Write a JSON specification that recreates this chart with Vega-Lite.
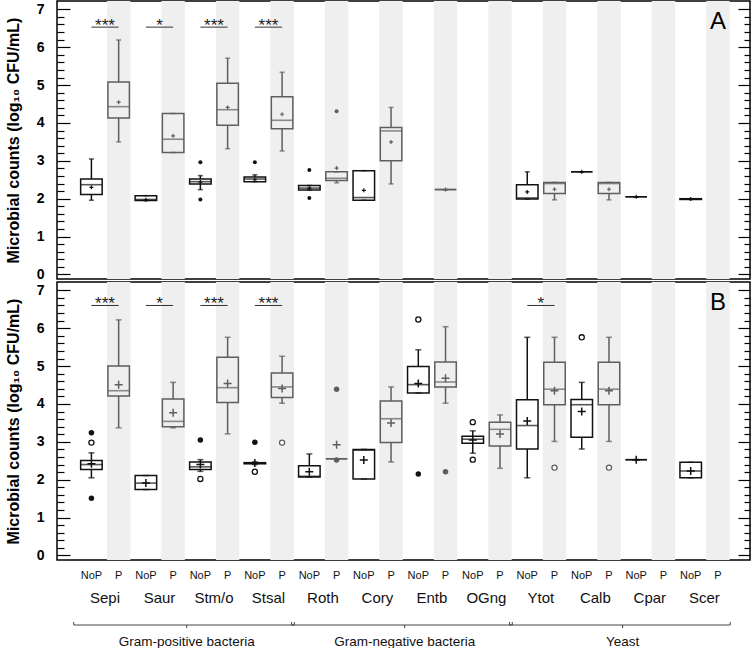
{
  "$schema": "https://vega.github.io/schema/vega-lite/v6.json",
  "background": "white",
  "padding": {"left": 4, "top": 0, "right": 2, "bottom": 0},
  "config": {"view": {"stroke": "black", "strokeWidth": 1.5}, "font": "Liberation Sans"},
  "spacing": 3,
  "bounds": "flush",
  "datasets": {
    "cols": [
      {"col": "Sepi|NoP", "group": "Sepi", "cond": "NoP"}, {"col": "Sepi|P", "group": "Sepi", "cond": "P"},
      {"col": "Saur|NoP", "group": "Saur", "cond": "NoP"}, {"col": "Saur|P", "group": "Saur", "cond": "P"},
      {"col": "Stm/o|NoP", "group": "Stm/o", "cond": "NoP"}, {"col": "Stm/o|P", "group": "Stm/o", "cond": "P"},
      {"col": "Stsal|NoP", "group": "Stsal", "cond": "NoP"}, {"col": "Stsal|P", "group": "Stsal", "cond": "P"},
      {"col": "Roth|NoP", "group": "Roth", "cond": "NoP"}, {"col": "Roth|P", "group": "Roth", "cond": "P"},
      {"col": "Cory|NoP", "group": "Cory", "cond": "NoP"}, {"col": "Cory|P", "group": "Cory", "cond": "P"},
      {"col": "Entb|NoP", "group": "Entb", "cond": "NoP"}, {"col": "Entb|P", "group": "Entb", "cond": "P"},
      {"col": "OGng|NoP", "group": "OGng", "cond": "NoP"}, {"col": "OGng|P", "group": "OGng", "cond": "P"},
      {"col": "Ytot|NoP", "group": "Ytot", "cond": "NoP"}, {"col": "Ytot|P", "group": "Ytot", "cond": "P"},
      {"col": "Calb|NoP", "group": "Calb", "cond": "NoP"}, {"col": "Calb|P", "group": "Calb", "cond": "P"},
      {"col": "Cpar|NoP", "group": "Cpar", "cond": "NoP"}, {"col": "Cpar|P", "group": "Cpar", "cond": "P"},
      {"col": "Scer|NoP", "group": "Scer", "cond": "NoP"}, {"col": "Scer|P", "group": "Scer", "cond": "P"}
    ],
    "boxes": [
      {"panel": "A", "col": "Sepi|NoP", "cond": "NoP", "lo": 1.96, "q1": 2.11, "med": 2.37, "q3": 2.52, "hi": 3.05, "mean": 2.3},
      {"panel": "A", "col": "Sepi|P", "cond": "P", "lo": 3.5, "q1": 4.13, "med": 4.43, "q3": 5.08, "hi": 6.19, "mean": 4.55},
      {"panel": "A", "col": "Saur|NoP", "cond": "NoP", "lo": 1.95, "q1": 1.95, "med": 1.98, "q3": 2.08, "hi": 2.08, "mean": 1.97},
      {"panel": "A", "col": "Saur|P", "cond": "P", "lo": 3.22, "q1": 3.22, "med": 3.57, "q3": 4.25, "hi": 4.25, "mean": 3.66},
      {"panel": "A", "col": "Stm/o|NoP", "cond": "NoP", "lo": 2.24, "q1": 2.39, "med": 2.45, "q3": 2.52, "hi": 2.61, "mean": 2.44},
      {"panel": "A", "col": "Stm/o|P", "cond": "P", "lo": 3.32, "q1": 3.94, "med": 4.35, "q3": 5.05, "hi": 5.71, "mean": 4.41},
      {"panel": "A", "col": "Stsal|NoP", "cond": "NoP", "lo": 2.45, "q1": 2.45, "med": 2.52, "q3": 2.57, "hi": 2.63, "mean": 2.5},
      {"panel": "A", "col": "Stsal|P", "cond": "P", "lo": 3.26, "q1": 3.85, "med": 4.07, "q3": 4.69, "hi": 5.34, "mean": 4.23},
      {"panel": "A", "col": "Roth|NoP", "cond": "NoP", "lo": 2.23, "q1": 2.23, "med": 2.28, "q3": 2.35, "hi": 2.35, "mean": 2.28},
      {"panel": "A", "col": "Roth|P", "cond": "P", "lo": 2.42, "q1": 2.48, "med": 2.54, "q3": 2.71, "hi": 2.71, "mean": 2.81},
      {"panel": "A", "col": "Cory|NoP", "cond": "NoP", "lo": 1.96, "q1": 1.96, "med": 2.03, "q3": 2.74, "hi": 2.74, "mean": 2.22},
      {"panel": "A", "col": "Cory|P", "cond": "P", "lo": 2.39, "q1": 3.0, "med": 3.79, "q3": 3.88, "hi": 4.41, "mean": 3.5},
      {"panel": "A", "col": "Entb|P", "cond": "P", "lo": 2.24, "q1": 2.24, "med": 2.24, "q3": 2.24, "hi": 2.24, "mean": 2.24},
      {"panel": "A", "col": "Ytot|NoP", "cond": "NoP", "lo": 1.99, "q1": 1.99, "med": 2.02, "q3": 2.37, "hi": 2.71, "mean": 2.18},
      {"panel": "A", "col": "Ytot|P", "cond": "P", "lo": 1.97, "q1": 2.14, "med": 2.4, "q3": 2.43, "hi": 2.43, "mean": 2.25},
      {"panel": "A", "col": "Calb|NoP", "cond": "NoP", "lo": 2.71, "q1": 2.71, "med": 2.71, "q3": 2.71, "hi": 2.71, "mean": 2.71},
      {"panel": "A", "col": "Calb|P", "cond": "P", "lo": 1.97, "q1": 2.14, "med": 2.4, "q3": 2.43, "hi": 2.43, "mean": 2.25},
      {"panel": "A", "col": "Cpar|NoP", "cond": "NoP", "lo": 2.05, "q1": 2.05, "med": 2.05, "q3": 2.05, "hi": 2.05, "mean": 2.05},
      {"panel": "A", "col": "Scer|NoP", "cond": "NoP", "lo": 1.98, "q1": 1.98, "med": 1.99, "q3": 2.0, "hi": 2.0, "mean": 1.99},
      {"panel": "B", "col": "Sepi|NoP", "cond": "NoP", "lo": 2.05, "q1": 2.27, "med": 2.4, "q3": 2.51, "hi": 2.71, "mean": 2.42},
      {"panel": "B", "col": "Sepi|P", "cond": "P", "lo": 3.37, "q1": 4.21, "med": 4.35, "q3": 5.0, "hi": 6.22, "mean": 4.51},
      {"panel": "B", "col": "Saur|NoP", "cond": "NoP", "lo": 1.74, "q1": 1.74, "med": 1.91, "q3": 2.11, "hi": 2.11, "mean": 1.91},
      {"panel": "B", "col": "Saur|P", "cond": "P", "lo": 3.37, "q1": 3.4, "med": 3.54, "q3": 4.13, "hi": 4.57, "mean": 3.77},
      {"panel": "B", "col": "Stm/o|NoP", "cond": "NoP", "lo": 2.22, "q1": 2.27, "med": 2.34, "q3": 2.47, "hi": 2.53, "mean": 2.4},
      {"panel": "B", "col": "Stm/o|P", "cond": "P", "lo": 3.21, "q1": 4.04, "med": 4.43, "q3": 5.23, "hi": 5.76, "mean": 4.54},
      {"panel": "B", "col": "Stsal|NoP", "cond": "NoP", "lo": 2.4, "q1": 2.42, "med": 2.44, "q3": 2.45, "hi": 2.47, "mean": 2.44},
      {"panel": "B", "col": "Stsal|P", "cond": "P", "lo": 4.02, "q1": 4.17, "med": 4.45, "q3": 4.82, "hi": 5.26, "mean": 4.41},
      {"panel": "B", "col": "Roth|NoP", "cond": "NoP", "lo": 2.07, "q1": 2.07, "med": 2.09, "q3": 2.37, "hi": 2.68, "mean": 2.21},
      {"panel": "B", "col": "Roth|P", "cond": "P", "lo": 2.55, "q1": 2.55, "med": 2.55, "q3": 2.55, "hi": 2.55, "mean": 2.92},
      {"panel": "B", "col": "Cory|NoP", "cond": "NoP", "lo": 2.02, "q1": 2.02, "med": 2.78, "q3": 2.8, "hi": 2.8, "mean": 2.52},
      {"panel": "B", "col": "Cory|P", "cond": "P", "lo": 2.47, "q1": 2.98, "med": 3.61, "q3": 4.08, "hi": 4.45, "mean": 3.5},
      {"panel": "B", "col": "Entb|NoP", "cond": "NoP", "lo": 4.29, "q1": 4.29, "med": 4.51, "q3": 4.99, "hi": 5.43, "mean": 4.54},
      {"panel": "B", "col": "Entb|P", "cond": "P", "lo": 4.02, "q1": 4.45, "med": 4.58, "q3": 5.11, "hi": 6.04, "mean": 4.68},
      {"panel": "B", "col": "OGng|NoP", "cond": "NoP", "lo": 2.7, "q1": 2.96, "med": 3.07, "q3": 3.15, "hi": 3.29, "mean": 3.05},
      {"panel": "B", "col": "OGng|P", "cond": "P", "lo": 2.3, "q1": 2.89, "med": 3.33, "q3": 3.52, "hi": 3.71, "mean": 3.21},
      {"panel": "B", "col": "Ytot|NoP", "cond": "NoP", "lo": 2.05, "q1": 2.81, "med": 3.43, "q3": 4.11, "hi": 5.76, "mean": 3.55},
      {"panel": "B", "col": "Ytot|P", "cond": "P", "lo": 3.01, "q1": 3.98, "med": 4.39, "q3": 5.1, "hi": 5.76, "mean": 4.35},
      {"panel": "B", "col": "Calb|NoP", "cond": "NoP", "lo": 2.81, "q1": 3.12, "med": 3.98, "q3": 4.12, "hi": 4.57, "mean": 3.8},
      {"panel": "B", "col": "Calb|P", "cond": "P", "lo": 3.01, "q1": 3.98, "med": 4.39, "q3": 5.1, "hi": 5.76, "mean": 4.35},
      {"panel": "B", "col": "Cpar|NoP", "cond": "NoP", "lo": 2.53, "q1": 2.53, "med": 2.53, "q3": 2.53, "hi": 2.53, "mean": 2.53},
      {"panel": "B", "col": "Scer|NoP", "cond": "NoP", "lo": 2.05, "q1": 2.05, "med": 2.23, "q3": 2.46, "hi": 2.46, "mean": 2.23}
    ],
    "outliers": [
      {"panel": "A", "col": "Stm/o|NoP", "cond": "NoP", "value": 2.96, "kind": "filled"},
      {"panel": "A", "col": "Stm/o|NoP", "cond": "NoP", "value": 1.98, "kind": "filled"},
      {"panel": "A", "col": "Stsal|NoP", "cond": "NoP", "value": 2.96, "kind": "filled"},
      {"panel": "A", "col": "Roth|NoP", "cond": "NoP", "value": 2.76, "kind": "filled"},
      {"panel": "A", "col": "Roth|NoP", "cond": "NoP", "value": 2.02, "kind": "filled"},
      {"panel": "A", "col": "Roth|P", "cond": "P", "value": 4.31, "kind": "filled"},
      {"panel": "B", "col": "Sepi|NoP", "cond": "NoP", "value": 3.24, "kind": "filled"},
      {"panel": "B", "col": "Sepi|NoP", "cond": "NoP", "value": 2.98, "kind": "open"},
      {"panel": "B", "col": "Sepi|NoP", "cond": "NoP", "value": 1.51, "kind": "filled"},
      {"panel": "B", "col": "Stm/o|NoP", "cond": "NoP", "value": 3.05, "kind": "filled"},
      {"panel": "B", "col": "Stm/o|NoP", "cond": "NoP", "value": 2.02, "kind": "open"},
      {"panel": "B", "col": "Stsal|NoP", "cond": "NoP", "value": 2.99, "kind": "filled"},
      {"panel": "B", "col": "Stsal|NoP", "cond": "NoP", "value": 2.21, "kind": "open"},
      {"panel": "B", "col": "Stsal|P", "cond": "P", "value": 2.98, "kind": "open"},
      {"panel": "B", "col": "Roth|P", "cond": "P", "value": 4.39, "kind": "filled"},
      {"panel": "B", "col": "Roth|P", "cond": "P", "value": 2.52, "kind": "filled"},
      {"panel": "B", "col": "Entb|NoP", "cond": "NoP", "value": 6.23, "kind": "open"},
      {"panel": "B", "col": "Entb|NoP", "cond": "NoP", "value": 2.15, "kind": "filled"},
      {"panel": "B", "col": "Entb|P", "cond": "P", "value": 2.21, "kind": "filled"},
      {"panel": "B", "col": "OGng|NoP", "cond": "NoP", "value": 3.52, "kind": "open"},
      {"panel": "B", "col": "OGng|NoP", "cond": "NoP", "value": 2.53, "kind": "open"},
      {"panel": "B", "col": "Ytot|P", "cond": "P", "value": 2.32, "kind": "open"},
      {"panel": "B", "col": "Calb|NoP", "cond": "NoP", "value": 5.76, "kind": "open"},
      {"panel": "B", "col": "Calb|P", "cond": "P", "value": 2.32, "kind": "open"}
    ],
    "sig": [
      {"panel": "A", "a": "Sepi|NoP", "b": "Sepi|P", "label": "***"},
      {"panel": "A", "a": "Saur|NoP", "b": "Saur|P", "label": "*"},
      {"panel": "A", "a": "Stm/o|NoP", "b": "Stm/o|P", "label": "***"},
      {"panel": "A", "a": "Stsal|NoP", "b": "Stsal|P", "label": "***"},
      {"panel": "B", "a": "Sepi|NoP", "b": "Sepi|P", "label": "***"},
      {"panel": "B", "a": "Saur|NoP", "b": "Saur|P", "label": "*"},
      {"panel": "B", "a": "Stm/o|NoP", "b": "Stm/o|P", "label": "***"},
      {"panel": "B", "a": "Stsal|NoP", "b": "Stsal|P", "label": "***"},
      {"panel": "B", "a": "Ytot|NoP", "b": "Ytot|P", "label": "*"}
    ],
    "brackets": [
      {"name": "Gram-positive bacteria", "first": "Sepi|NoP", "last": "Stsal|P", "mid": "Saur|P"},
      {"name": "Gram-negative bacteria", "first": "Roth|NoP", "last": "OGng|P", "mid": "Cory|P"},
      {"name": "Yeast", "first": "Ytot|NoP", "last": "Scer|P", "mid": "Calb|P"}
    ]
  },
  "vconcat": [
    {
      "width": 693, "height": 278,
      "resolve": {"axis": {"y": "independent"}},
      "layer": [
        {"data": {"name": "cols"}, "transform": [{"filter": "datum.cond === 'P'"}],
         "mark": {"type": "bar", "color": "#efefef", "width": {"band": 0.86}},
         "encoding": {
           "x": {"field": "col", "type": "nominal", "axis": null,
                 "scale": {"type": "band", "domain": ["Sepi|NoP","Sepi|P","Saur|NoP","Saur|P","Stm/o|NoP","Stm/o|P","Stsal|NoP","Stsal|P","Roth|NoP","Roth|P","Cory|NoP","Cory|P","Entb|NoP","Entb|P","OGng|NoP","OGng|P","Ytot|NoP","Ytot|P","Calb|NoP","Calb|P","Cpar|NoP","Cpar|P","Scer|NoP","Scer|P"], "paddingInner": 0, "paddingOuter": 0.72, "align": 0.53}},
           "y": {"datum": -0.12, "type": "quantitative", "scale": {"domain": [-0.12, 7.22], "nice": false, "zero": false},
                 "axis": {"orient": "left", "zindex": 1, "values": [0,0.2,0.4,0.6,0.8,1,1.2,1.4,1.6,1.8,2,2.2,2.4,2.6,2.8,3,3.2,3.4,3.6,3.8,4,4.2,4.4,4.6,4.8,5,5.2,5.4,5.6,5.8,6,6.2,6.4,6.6,6.8,7],
                          "labelExpr": "datum.value % 1 === 0 ? '' + datum.value : ''", "labelOverlap": false,
                          "tickSize": {"condition": {"test": "datum.value % 1 === 0", "value": -13}, "value": -7},
                          "tickColor": "black", "tickWidth": 1.2, "domain": false, "grid": false,
                          "labelFont": "Liberation Sans", "labelFontWeight": "bold", "labelFontSize": 14, "labelColor": "black", "labelPadding": 26,
                          "title": "Microbial counts (log₁₀ CFU/mL)", "titleFont": "Liberation Sans", "titleFontSize": 16, "titleFontWeight": "bold", "titleColor": "black", "titlePadding": 15}},
           "y2": {"datum": 7.22}
         }},
        {"data": {"name": "boxes"}, "transform": [{"filter": "datum.panel === 'A'"}],
         "mark": {"type": "rule", "strokeWidth": 1.5},
         "encoding": {
           "x": {"field": "col", "type": "nominal"},
           "y": {"field": "lo", "type": "quantitative",
                 "axis": {"orient": "right", "zindex": 1, "values": [0,0.2,0.4,0.6,0.8,1,1.2,1.4,1.6,1.8,2,2.2,2.4,2.6,2.8,3,3.2,3.4,3.6,3.8,4,4.2,4.4,4.6,4.8,5,5.2,5.4,5.6,5.8,6,6.2,6.4,6.6,6.8,7],
                          "labels": false, "title": null, "domain": false, "grid": false,
                          "tickSize": {"condition": {"test": "datum.value % 1 === 0", "value": -12}, "value": -6},
                          "tickColor": "black", "tickWidth": 1.2}},
           "y2": {"field": "q1"},
           "color": {"field": "cond", "type": "nominal", "scale": {"domain": ["NoP", "P"], "range": ["#111111", "#5e5e5e"]}, "legend": null}
         }},
        {"data": {"name": "boxes"}, "transform": [{"filter": "datum.panel === 'A'"}],
         "mark": {"type": "rule", "strokeWidth": 1.5},
         "encoding": {"x": {"field": "col", "type": "nominal"}, "y": {"field": "q3", "type": "quantitative", "axis": null}, "y2": {"field": "hi"}, "color": {"field": "cond", "type": "nominal", "legend": null}}},
        {"data": {"name": "boxes"}, "transform": [{"filter": "datum.panel === 'A'"}],
         "mark": {"type": "bar", "filled": false, "strokeWidth": 1.5, "width": {"band": 0.79}},
         "encoding": {"x": {"field": "col", "type": "nominal"}, "y": {"field": "q1", "type": "quantitative", "axis": null}, "y2": {"field": "q3"}, "color": {"field": "cond", "type": "nominal", "legend": null}}},
        {"data": {"name": "boxes"}, "transform": [{"filter": "datum.panel === 'A'"}],
         "mark": {"type": "tick", "size": 21.5, "thickness": 1.6},
         "encoding": {"x": {"field": "col", "type": "nominal"}, "y": {"field": "med", "type": "quantitative", "axis": null}, "color": {"field": "cond", "type": "nominal", "legend": null}}},
        {"data": {"name": "boxes"}, "transform": [{"filter": "datum.panel === 'A'"}],
         "mark": {"type": "tick", "size": 5, "thickness": 1.5},
         "encoding": {"x": {"field": "col", "type": "nominal"}, "y": {"field": "lo", "type": "quantitative", "axis": null}, "color": {"field": "cond", "type": "nominal", "legend": null}}},
        {"data": {"name": "boxes"}, "transform": [{"filter": "datum.panel === 'A'"}],
         "mark": {"type": "tick", "size": 5, "thickness": 1.5},
         "encoding": {"x": {"field": "col", "type": "nominal"}, "y": {"field": "hi", "type": "quantitative", "axis": null}, "color": {"field": "cond", "type": "nominal", "legend": null}}},
        {"data": {"name": "boxes"}, "transform": [{"filter": "datum.panel === 'A'"}],
         "mark": {"type": "point", "shape": "M-1,0L1,0M0,-1L0,1", "filled": false, "size": 16, "strokeWidth": 1.2, "opacity": 1},
         "encoding": {"x": {"field": "col", "type": "nominal"}, "y": {"field": "mean", "type": "quantitative", "axis": null}, "color": {"field": "cond", "type": "nominal", "legend": null}}},
        {"data": {"name": "outliers"}, "transform": [{"filter": "datum.panel === 'A'"}],
         "mark": {"type": "point", "shape": "circle", "filled": true, "size": 16, "opacity": 1},
         "encoding": {"x": {"field": "col", "type": "nominal"}, "y": {"field": "value", "type": "quantitative", "axis": null}, "color": {"field": "cond", "type": "nominal", "legend": null}}},
        {"data": {"name": "sig"}, "transform": [{"filter": "datum.panel === 'A'"}],
         "mark": {"type": "rule", "color": "#333333", "strokeWidth": 1},
         "encoding": {"x": {"field": "a", "type": "nominal"}, "x2": {"field": "b"}, "y": {"datum": 6.53, "type": "quantitative", "axis": null}}},
        {"data": {"name": "sig"}, "transform": [{"filter": "datum.panel === 'A'"}],
         "mark": {"type": "text", "fontSize": 17, "color": "#222222", "baseline": "alphabetic", "dy": 4},
         "encoding": {"x": {"field": "b", "type": "nominal", "bandPosition": 0}, "y": {"datum": 6.53, "type": "quantitative", "axis": null}, "text": {"field": "label"}}},
        {"data": {"values": [{}]},
         "mark": {"type": "text", "fontSize": 24, "color": "black", "baseline": "middle"},
         "encoding": {"x": {"datum": "Scer|P", "type": "nominal"}, "y": {"datum": 6.67, "type": "quantitative", "axis": null}, "text": {"value": "A"}}}
      ]
    },
    {
      "width": 693, "height": 278,
      "resolve": {"axis": {"y": "independent"}},
      "layer": [
        {"data": {"name": "cols"}, "transform": [{"filter": "datum.cond === 'P'"}],
         "mark": {"type": "bar", "color": "#efefef", "width": {"band": 0.86}},
         "encoding": {
           "x": {"field": "col", "type": "nominal", "axis": null,
                 "scale": {"type": "band", "domain": ["Sepi|NoP","Sepi|P","Saur|NoP","Saur|P","Stm/o|NoP","Stm/o|P","Stsal|NoP","Stsal|P","Roth|NoP","Roth|P","Cory|NoP","Cory|P","Entb|NoP","Entb|P","OGng|NoP","OGng|P","Ytot|NoP","Ytot|P","Calb|NoP","Calb|P","Cpar|NoP","Cpar|P","Scer|NoP","Scer|P"], "paddingInner": 0, "paddingOuter": 0.72, "align": 0.53}},
           "y": {"datum": -0.12, "type": "quantitative", "scale": {"domain": [-0.12, 7.22], "nice": false, "zero": false},
                 "axis": {"orient": "left", "zindex": 1, "values": [0,0.2,0.4,0.6,0.8,1,1.2,1.4,1.6,1.8,2,2.2,2.4,2.6,2.8,3,3.2,3.4,3.6,3.8,4,4.2,4.4,4.6,4.8,5,5.2,5.4,5.6,5.8,6,6.2,6.4,6.6,6.8,7],
                          "labelExpr": "datum.value % 1 === 0 ? '' + datum.value : ''", "labelOverlap": false,
                          "tickSize": {"condition": {"test": "datum.value % 1 === 0", "value": -13}, "value": -7},
                          "tickColor": "black", "tickWidth": 1.2, "domain": false, "grid": false,
                          "labelFont": "Liberation Sans", "labelFontWeight": "bold", "labelFontSize": 14, "labelColor": "black", "labelPadding": 26,
                          "title": "Microbial counts (log₁₀ CFU/mL)", "titleFont": "Liberation Sans", "titleFontSize": 16, "titleFontWeight": "bold", "titleColor": "black", "titlePadding": 15}},
           "y2": {"datum": 7.22}
         }},
        {"data": {"name": "boxes"}, "transform": [{"filter": "datum.panel === 'B'"}],
         "mark": {"type": "rule", "strokeWidth": 1.5},
         "encoding": {
           "x": {"field": "col", "type": "nominal"},
           "y": {"field": "lo", "type": "quantitative",
                 "axis": {"orient": "right", "zindex": 1, "values": [0,0.2,0.4,0.6,0.8,1,1.2,1.4,1.6,1.8,2,2.2,2.4,2.6,2.8,3,3.2,3.4,3.6,3.8,4,4.2,4.4,4.6,4.8,5,5.2,5.4,5.6,5.8,6,6.2,6.4,6.6,6.8,7],
                          "labels": false, "title": null, "domain": false, "grid": false,
                          "tickSize": {"condition": {"test": "datum.value % 1 === 0", "value": -12}, "value": -6},
                          "tickColor": "black", "tickWidth": 1.2}},
           "y2": {"field": "q1"},
           "color": {"field": "cond", "type": "nominal", "scale": {"domain": ["NoP", "P"], "range": ["#111111", "#5e5e5e"]}, "legend": null}
         }},
        {"data": {"name": "boxes"}, "transform": [{"filter": "datum.panel === 'B'"}],
         "mark": {"type": "rule", "strokeWidth": 1.5},
         "encoding": {"x": {"field": "col", "type": "nominal"}, "y": {"field": "q3", "type": "quantitative", "axis": null}, "y2": {"field": "hi"}, "color": {"field": "cond", "type": "nominal", "legend": null}}},
        {"data": {"name": "boxes"}, "transform": [{"filter": "datum.panel === 'B'"}],
         "mark": {"type": "bar", "filled": false, "strokeWidth": 1.5, "width": {"band": 0.79}},
         "encoding": {"x": {"field": "col", "type": "nominal"}, "y": {"field": "q1", "type": "quantitative", "axis": null}, "y2": {"field": "q3"}, "color": {"field": "cond", "type": "nominal", "legend": null}}},
        {"data": {"name": "boxes"}, "transform": [{"filter": "datum.panel === 'B'"}],
         "mark": {"type": "tick", "size": 21.5, "thickness": 1.6},
         "encoding": {"x": {"field": "col", "type": "nominal"}, "y": {"field": "med", "type": "quantitative", "axis": null}, "color": {"field": "cond", "type": "nominal", "legend": null}}},
        {"data": {"name": "boxes"}, "transform": [{"filter": "datum.panel === 'B'"}],
         "mark": {"type": "tick", "size": 6, "thickness": 1.5},
         "encoding": {"x": {"field": "col", "type": "nominal"}, "y": {"field": "lo", "type": "quantitative", "axis": null}, "color": {"field": "cond", "type": "nominal", "legend": null}}},
        {"data": {"name": "boxes"}, "transform": [{"filter": "datum.panel === 'B'"}],
         "mark": {"type": "tick", "size": 6, "thickness": 1.5},
         "encoding": {"x": {"field": "col", "type": "nominal"}, "y": {"field": "hi", "type": "quantitative", "axis": null}, "color": {"field": "cond", "type": "nominal", "legend": null}}},
        {"data": {"name": "boxes"}, "transform": [{"filter": "datum.panel === 'B'"}],
         "mark": {"type": "point", "shape": "M-1,0L1,0M0,-1L0,1", "filled": false, "size": 64, "strokeWidth": 1.5, "opacity": 1},
         "encoding": {"x": {"field": "col", "type": "nominal"}, "y": {"field": "mean", "type": "quantitative", "axis": null}, "color": {"field": "cond", "type": "nominal", "legend": null}}},
        {"data": {"name": "outliers"}, "transform": [{"filter": "datum.panel === 'B' && datum.kind === 'filled'"}],
         "mark": {"type": "point", "shape": "circle", "filled": true, "size": 30, "opacity": 1},
         "encoding": {"x": {"field": "col", "type": "nominal"}, "y": {"field": "value", "type": "quantitative", "axis": null}, "color": {"field": "cond", "type": "nominal", "legend": null}}},
        {"data": {"name": "outliers"}, "transform": [{"filter": "datum.panel === 'B' && datum.kind === 'open'"}],
         "mark": {"type": "point", "shape": "circle", "filled": false, "fill": "white", "size": 26, "strokeWidth": 1.3, "opacity": 1},
         "encoding": {"x": {"field": "col", "type": "nominal"}, "y": {"field": "value", "type": "quantitative", "axis": null}, "color": {"field": "cond", "type": "nominal", "legend": null}}},
        {"data": {"name": "sig"}, "transform": [{"filter": "datum.panel === 'B'"}],
         "mark": {"type": "rule", "color": "#333333", "strokeWidth": 1},
         "encoding": {"x": {"field": "a", "type": "nominal"}, "x2": {"field": "b"}, "y": {"datum": 6.6, "type": "quantitative", "axis": null}}},
        {"data": {"name": "sig"}, "transform": [{"filter": "datum.panel === 'B'"}],
         "mark": {"type": "text", "fontSize": 17, "color": "#222222", "baseline": "alphabetic", "dy": 4},
         "encoding": {"x": {"field": "b", "type": "nominal", "bandPosition": 0}, "y": {"datum": 6.6, "type": "quantitative", "axis": null}, "text": {"field": "label"}}},
        {"data": {"values": [{}]},
         "mark": {"type": "text", "fontSize": 24, "color": "black", "baseline": "middle"},
         "encoding": {"x": {"datum": "Scer|P", "type": "nominal"}, "y": {"datum": 6.67, "type": "quantitative", "axis": null}, "text": {"value": "B"}}}
      ]
    },
    {
      "width": 693, "height": 84,
      "view": {"stroke": null},
      "layer": [
        {"data": {"name": "cols"},
         "mark": {"type": "text", "fontSize": 11, "color": "#111111", "baseline": "middle"},
         "encoding": {
           "x": {"field": "col", "type": "nominal", "axis": null,
                 "scale": {"type": "band", "domain": ["Sepi|NoP","Sepi|P","Saur|NoP","Saur|P","Stm/o|NoP","Stm/o|P","Stsal|NoP","Stsal|P","Roth|NoP","Roth|P","Cory|NoP","Cory|P","Entb|NoP","Entb|P","OGng|NoP","OGng|P","Ytot|NoP","Ytot|P","Calb|NoP","Calb|P","Cpar|NoP","Cpar|P","Scer|NoP","Scer|P"], "paddingInner": 0, "paddingOuter": 0.72, "align": 0.53}},
           "y": {"datum": 13, "type": "quantitative", "scale": {"domain": [0, 84], "reverse": true, "nice": false, "zero": false}, "axis": null},
           "text": {"field": "cond"}
         }},
        {"data": {"name": "cols"}, "transform": [{"filter": "datum.cond === 'NoP'"}],
         "mark": {"type": "text", "fontSize": 15, "color": "#111111", "baseline": "middle"},
         "encoding": {"x": {"field": "col", "type": "nominal", "bandPosition": 1}, "y": {"datum": 35, "type": "quantitative"}, "text": {"field": "group"}}},
        {"data": {"name": "brackets"},
         "mark": {"type": "rule", "color": "#444444", "strokeWidth": 1},
         "encoding": {"x": {"field": "first", "type": "nominal", "bandPosition": -0.15}, "x2": {"field": "last", "bandPosition": 0.95}, "y": {"datum": 62, "type": "quantitative"}}},
        {"data": {"name": "brackets"},
         "mark": {"type": "rule", "color": "#444444", "strokeWidth": 1},
         "encoding": {"x": {"field": "first", "type": "nominal", "bandPosition": -0.15}, "y": {"datum": 59, "type": "quantitative"}, "y2": {"datum": 62}}},
        {"data": {"name": "brackets"},
         "mark": {"type": "rule", "color": "#444444", "strokeWidth": 1},
         "encoding": {"x": {"field": "last", "type": "nominal", "bandPosition": 0.95}, "y": {"datum": 59, "type": "quantitative"}, "y2": {"datum": 62}}},
        {"data": {"name": "brackets"},
         "mark": {"type": "rule", "color": "#444444", "strokeWidth": 1},
         "encoding": {"x": {"field": "mid", "type": "nominal", "bandPosition": 1}, "y": {"datum": 62, "type": "quantitative"}, "y2": {"datum": 65}}},
        {"data": {"name": "brackets"},
         "mark": {"type": "text", "fontSize": 13.5, "color": "#111111", "baseline": "middle"},
         "encoding": {"x": {"field": "mid", "type": "nominal", "bandPosition": 1}, "y": {"datum": 79, "type": "quantitative"}, "text": {"field": "name"}}}
      ]
    }
  ]
}
